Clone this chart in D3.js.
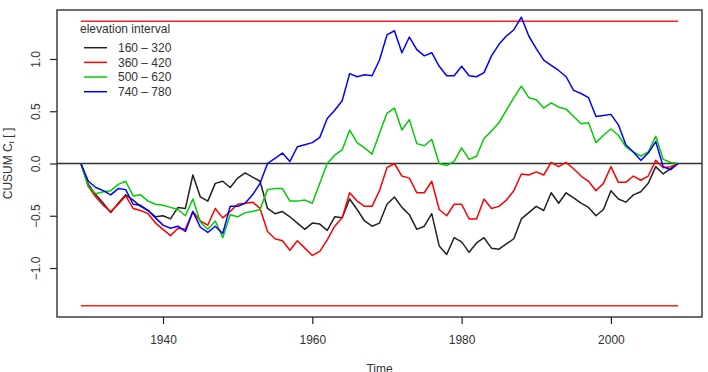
<!DOCTYPE html>
<html>
<head>
<meta charset="utf-8">
<script src="https://cdnjs.cloudflare.com/ajax/libs/d3/7.8.5/d3.min.js"></script>
<style>
  body { margin: 0; background: #fff; }
  text { font-family: "Liberation Sans", Arial, Helvetica, sans-serif; fill: #333; }
</style>
</head>
<body>
<div id="chart-area"></div>
<script>
// Years 1929..2009
var years = d3.range(1929, 2010);

// Series labels and colours
var seriesNames = ["160 – 320", "360 – 420", "500 – 620", "740 – 780"];
var seriesColors = ["#222222", "#ff0000", "#00cd00", "#0000ff"];

// CUSUM values
var s160 = [0, -0.2, -0.3, -0.38, -0.47, -0.38, -0.3, -0.35, -0.41, -0.45,
    -0.51, -0.5, -0.53, -0.42, -0.43, -0.11, -0.32, -0.36, -0.19, -0.17,
    -0.23, -0.14, -0.09, -0.13, -0.17, -0.43, -0.48, -0.46, -0.51, -0.57,
    -0.63, -0.57, -0.58, -0.64, -0.51, -0.52, -0.34, -0.44, -0.55, -0.6,
    -0.57, -0.39, -0.32, -0.42, -0.49, -0.63, -0.6, -0.48, -0.79, -0.87,
    -0.71, -0.75, -0.85, -0.76, -0.71, -0.81, -0.82, -0.77, -0.72, -0.53,
    -0.47, -0.41, -0.45, -0.28, -0.38, -0.28, -0.33, -0.38, -0.42, -0.5,
    -0.44, -0.26, -0.34, -0.37, -0.3, -0.27, -0.19, -0.03, -0.1, -0.05, 0];
var s360 = [0, -0.22, -0.32, -0.4, -0.46, -0.39, -0.31, -0.43, -0.45, -0.48,
    -0.57, -0.63, -0.69, -0.62, -0.63, -0.46, -0.55, -0.59, -0.43, -0.52,
    -0.46, -0.39, -0.38, -0.37, -0.43, -0.65, -0.72, -0.74, -0.83, -0.74,
    -0.81, -0.88, -0.84, -0.73, -0.6, -0.52, -0.28, -0.36, -0.41, -0.41,
    -0.26, -0.04, 0.0, -0.12, -0.14, -0.28, -0.28, -0.17, -0.44, -0.5,
    -0.39, -0.39, -0.53, -0.53, -0.34, -0.43, -0.41, -0.35, -0.26, -0.1,
    -0.11, -0.08, -0.11, 0.01, -0.03, 0.01, -0.05, -0.12, -0.17, -0.26,
    -0.19, -0.03, -0.18, -0.18, -0.12, -0.16, -0.12, 0.03, -0.04, -0.03, 0];
var s500 = [0, -0.22, -0.29, -0.27, -0.26, -0.2, -0.17, -0.31, -0.3, -0.36,
    -0.39, -0.4, -0.42, -0.44, -0.5, -0.34, -0.56, -0.63, -0.55, -0.71,
    -0.49, -0.51, -0.47, -0.46, -0.44, -0.25, -0.24, -0.24, -0.36, -0.36,
    -0.35, -0.38, -0.19, 0.0, 0.08, 0.13, 0.32, 0.2, 0.15, 0.09,
    0.29, 0.48, 0.53, 0.32, 0.42, 0.19, 0.17, 0.23, 0.0, -0.02,
    0.02, 0.15, 0.04, 0.07, 0.24, 0.31, 0.39, 0.51, 0.63, 0.74,
    0.63, 0.61, 0.53, 0.58, 0.54, 0.52, 0.45, 0.38, 0.39, 0.2,
    0.27, 0.33, 0.27, 0.16, 0.11, 0.07, 0.11, 0.26, 0.04, 0.01, 0];
var s740 = [0, -0.17, -0.23, -0.26, -0.3, -0.24, -0.25, -0.39, -0.4, -0.45,
    -0.52, -0.59, -0.62, -0.6, -0.65, -0.46, -0.61, -0.66, -0.6, -0.67,
    -0.41, -0.41, -0.38, -0.3, -0.19, 0.0, 0.05, 0.1, 0.02, 0.16,
    0.18, 0.2, 0.25, 0.43, 0.51, 0.6, 0.86, 0.83, 0.85, 0.84,
    0.99, 1.23, 1.27, 1.06, 1.21, 1.09, 1.03, 1.06, 0.93, 0.84,
    0.84, 0.93, 0.84, 0.83, 0.87, 1.03, 1.14, 1.22, 1.28, 1.4,
    1.22, 1.1, 0.99, 0.94, 0.89, 0.83, 0.7, 0.67, 0.63, 0.45,
    0.46, 0.47, 0.37, 0.18, 0.11, 0.03, 0.1, 0.21, -0.03, -0.06, 0];

// Control limits and tick labels
var limit = 1.36;
var xTicks = [1940, 1960, 1980, 2000];
var yTicks = [-1.0, -0.5, 0.0, 0.5, 1.0];

var allSeries = [s160, s360, s500, s740];

// Chart size
var margin = { top: 10, right: 6, bottom: 55, left: 57 },
    width = 708 - margin.left - margin.right,
    height = 372 - margin.top - margin.bottom;

var svg = d3.select("#chart-area").append("svg")
    .attr("width", 708)
    .attr("height", 372)
    .append("g")
    .attr("transform", "translate(" + margin.left + "," + margin.top + ")");

// Scales, padded 4% like R
var xPad = (2009 - 1929) * 0.04;
var x = d3.scaleLinear().domain([1929 - xPad, 2009 + xPad]).range([0, width]);
var yPad = 2 * limit * 0.04;
var y = d3.scaleLinear().domain([-limit - yPad, limit + yPad]).range([height, 0]);

// Axes
var xAxis = svg.append("g")
    .attr("transform", "translate(0," + height + ")")
    .call(d3.axisBottom(x).tickValues(xTicks).tickFormat(d3.format("d")).tickSize(7).tickPadding(11));
var yAxis = svg.append("g")
    .call(d3.axisLeft(y).tickValues(yTicks).tickFormat(function(d) { return d3.format(".1f")(d).replace("-", "−"); }).tickSize(7));
[xAxis, yAxis].forEach(function(a) {
    a.select(".domain").remove();
    a.selectAll(".tick line").attr("stroke", "#222").attr("stroke-width", 1.2);
    a.selectAll(".tick text").style("font-size", "12px").attr("fill", "#333");
});
// R style rotated y labels
yAxis.selectAll(".tick text")
    .attr("x", null).attr("dy", null)
    .attr("text-anchor", "middle")
    .attr("transform", "translate(" + (40 - margin.left) + ",0) rotate(-90)");

// Axis titles
svg.append("text")
    .attr("x", width / 2)
    .attr("y", 373 - margin.top)
    .attr("text-anchor", "middle")
    .style("font-size", "12px")
    .text("Time");
var yLab = svg.append("text")
    .attr("transform", "translate(" + (12 - margin.left) + "," + (y(0)) + ") rotate(-90)")
    .attr("text-anchor", "middle")
    .style("font-size", "12px");
yLab.append("tspan").text("CUSUM C");
yLab.append("tspan").attr("dy", 2).style("font-size", "8px").text("t");
yLab.append("tspan").attr("dy", -2).text(" [ ]");

// Horizontal zero line and control limits
svg.append("line")
    .attr("x1", 0).attr("x2", width)
    .attr("y1", y(0)).attr("y2", y(0))
    .attr("stroke", "#333").attr("stroke-width", 1.5);
[limit, -limit].forEach(function(v) {
    svg.append("line")
        .attr("x1", x(1929)).attr("x2", x(2009))
        .attr("y1", y(v)).attr("y2", y(v))
        .attr("stroke", "#ff2020").attr("stroke-width", 1.5);
});

// Series lines
var line = d3.line()
    .x(function(d, i) { return x(years[i]); })
    .y(function(d) { return y(d); });
allSeries.forEach(function(s, i) {
    svg.append("path")
        .datum(s)
        .attr("fill", "none")
        .attr("stroke", seriesColors[i])
        .attr("stroke-width", 1.5)
        .attr("stroke-linejoin", "round")
        .attr("d", line);
});

// Plot box
svg.append("rect")
    .attr("width", width).attr("height", height)
    .attr("fill", "none")
    .attr("stroke", "#222").attr("stroke-width", 1.3);

// Legend
var legend = svg.append("g").attr("transform", "translate(" + (-margin.left) + "," + (-margin.top) + ")");
legend.append("text")
    .attr("x", 80).attr("y", 33)
    .style("font-size", "12px")
    .text("elevation interval");
seriesNames.forEach(function(name, i) {
    var ly = 47.7 + i * 14.67;
    legend.append("line")
        .attr("x1", 84).attr("x2", 107)
        .attr("y1", ly).attr("y2", ly)
        .attr("stroke", seriesColors[i]).attr("stroke-width", 1.5);
    legend.append("text")
        .attr("x", 118).attr("y", ly + 4.3)
        .style("font-size", "12px")
        .text(name);
});
</script>
</body>
</html>
